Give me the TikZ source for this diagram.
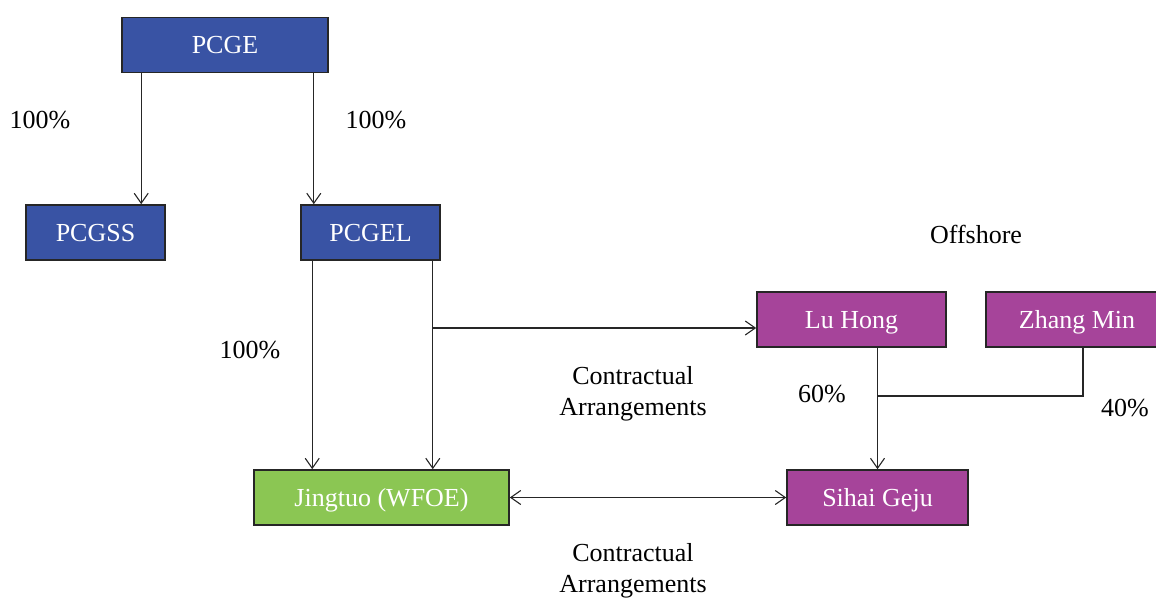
\documentclass[tikz,border=0pt]{standalone}
\usepackage{fontspec}
\setmainfont{Liberation Serif}
\usepackage{xcolor}
\definecolor{ParentBlue}{RGB}{57,83,164}
\definecolor{OwnerPlum}{RGB}{166,68,154}
\definecolor{WfoeGreen}{RGB}{139,198,83}
\definecolor{EdgeDark}{RGB}{38,38,38}
\usetikzlibrary{arrows.meta}

\begin{document}
\begin{tikzpicture}[
    x=1pt, y=-1pt,
    every node/.style={font=\fontsize{26}{31}\selectfont},
    entity/.style={
        draw=EdgeDark, line width=1.6pt,
        minimum height=55pt, inner sep=0pt,
        text height=20pt, text depth=2pt,
        text=white, align=center
    },
    parent/.style={entity, fill=ParentBlue},
    owner/.style={entity, fill=OwnerPlum},
    wfoe/.style={entity, fill=WfoeGreen},
    link/.style={
        line width=1.1pt, draw=EdgeDark,
        -{Straight Barb[length=10pt,width=14pt,line width=1.1pt]}
    },
    twoway/.style={
        line width=1.1pt, draw=EdgeDark,
        {Straight Barb[length=10pt,width=14pt,line width=1.1pt]}-{Straight Barb[length=10pt,width=14pt,line width=1.1pt]}
    },
    plain/.style={line width=1.1pt, draw=EdgeDark},
    pct/.style={text=black, align=center}
]
\useasboundingbox (0,0) rectangle (1156,599);

% ====== ENTITES ======
\node[parent, minimum width=206pt] (pcge)    at (225,   45)  {PCGE};
\node[parent, minimum width=139pt] (pcgss)   at (95.5,  232.5) {PCGSS};
\node[parent, minimum width=139pt] (pcgel)   at (370.5, 232.5) {PCGEL};
\node[owner,  minimum width=189pt] (luhong)  at (851.5, 319.5) {Lu Hong};
\node[owner,  minimum width=182pt] (zhang)   at (1077,  319.5) {Zhang Min};
\node[wfoe,   minimum width=255pt] (jingtuo) at (381.5, 497.5) {Jingtuo (WFOE)};
\node[owner,  minimum width=181pt] (sihai)   at (877.5, 497.5) {Sihai Geju};

% ====== LIBELLES ======
\node[pct] (pA) at (40,  120) {100\%};
\node[pct] (pB) at (376, 120) {100\%};
\node[pct] (pC) at (250, 350) {100\%};
\node[pct] (pD) at (822, 394) {60\%};
\node[pct] (pE) at (1125, 408) {40\%};
\node[pct] (off) at (976, 234) {Offshore};
\node[pct] (caTop) at (633, 394) {Contractual\\Arrangements};
\node[pct] (caBot) at (633, 571) {Contractual\\Arrangements};

% ====== DETENTION ======
\draw[link] ([xshift=20pt]pcge.south west) -- ([xshift=20pt]pcge.south west |- pcgss.north);
\draw[link] ([xshift=-15pt]pcge.south east) -- ([xshift=-15pt]pcge.south east |- pcgel.north);

% PCGEL vers Jingtuo
\draw[link] ([xshift=12pt]pcgel.south west) -- ([xshift=12pt]pcgel.south west |- jingtuo.north);
\draw[link] ([xshift=-8pt]pcgel.south east) -- ([xshift=-8pt]pcgel.south east |- jingtuo.north);

% contrat vers Lu Hong
\coordinate (split) at ([xshift=-8pt]pcgel.south east |- 0,328);
\draw[link] (split) -- (split -| luhong.west);

% Lu Hong et Zhang Min vers Sihai Geju
\coordinate (join) at (sihai.north |- 0,396);
\draw[link] (luhong.south -| sihai.north) -- (sihai.north);
\draw[plain] ([xshift=6pt]zhang.south) |- (join);

% contrat Jingtuo <-> Sihai Geju
\draw[twoway] (jingtuo.east) -- (sihai.west);

\end{tikzpicture}
\end{document}
